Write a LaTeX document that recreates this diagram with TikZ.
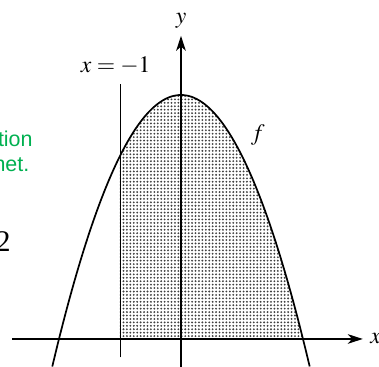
\documentclass[tikz,border=0pt]{standalone}
\usepackage{mathptmx}
\usepackage{fontspec}
\setmainfont{Liberation Serif}
\newfontfamily\notefont{Liberation Sans}
\usepackage{tikz}
\usetikzlibrary{arrows.meta,patterns}
\definecolor{notegreen}{RGB}{0,176,80}
\pgfdeclarepatternformonly{finedots}{\pgfqpoint{-0.5pt}{-0.5pt}}{\pgfqpoint{0.5pt}{0.5pt}}{\pgfqpoint{1.6pt}{1.6pt}}{\pgfpathcircle{\pgfqpoint{0pt}{0pt}}{0.48pt}\pgfusepath{fill}}

\begin{document}
\begin{tikzpicture}[axis/.style={semithick,-{Stealth[length=7pt,width=4.5pt,inset=2pt]}},
  every node/.style={font=\fontsize{11}{13}\selectfont},
  note/.style={anchor=base east,inner sep=0pt,text=notegreen,font=\notefont\fontsize{10}{12}\selectfont}]
  \useasboundingbox (-2.967,-0.459) rectangle (3.246,5.557);
  % shaded area under f between x=-1 and x=2
  \fill[pattern=finedots,pattern color=black!75] (-1,0) -- plot[domain=-1:2,samples=40] (\x,{4-\x*\x}) -- cycle;
  % line x=-1
  \coordinate (vbot) at (-1,-0.30);
  \coordinate (vtop) at (-1,4.18);
  \draw[thin] (vbot) -- (vtop);
  \node (linelabel) at (-1.07,4.475) {$x=-1$};
  % axes
  \coordinate (xleft) at (-2.77,0);
  \coordinate (xright) at (2.98,0);
  \coordinate (ybot) at (0,-0.46);
  \coordinate (ytop) at (0,4.97);
  \draw[axis] (xleft) -- (xright);
  \draw[axis] (ybot) -- (ytop);
  \node[right] (xname) at (xright) {$x$};
  \node[above] (yname) at (ytop) {$y$};
  % graph of f
  \draw[thick] plot[domain=-2.11:2.11,samples=60,smooth] (\x,{4-\x*\x});
  \node (fname) at (1.26,3.34) {$f$};
  % cut-off text at the left
  \node[note] (notea) at (-2.426,3.16) {tion};
  \node[note] (noteb) at (-2.48,2.75) {net.};
  \node[anchor=base east,inner sep=0pt,font=\fontsize{14}{16}\selectfont] (pagenum) at (-2.787,1.43) {2};
\end{tikzpicture}
\end{document}
